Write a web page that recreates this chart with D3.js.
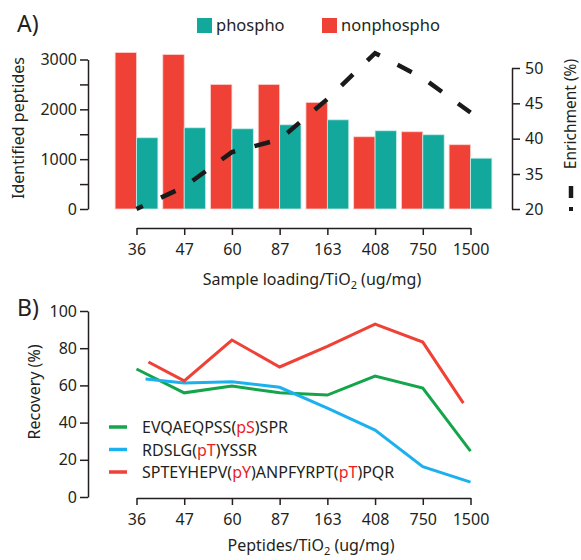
<!DOCTYPE html>
<meta charset="utf-8">
<style>
    body { margin: 0; background: #fff; }
    svg { font-family: "Noto Sans", sans-serif; display: block; }
    .axis path, .axis line { stroke: #231f20; stroke-width: 1.5px; }
    .axis text { font-size: 16px; fill: #231f20; font-family: "Noto Sans", sans-serif; }
    .lbl { font-size: 16px; fill: #231f20; }
</style>
<script src="https://cdn.jsdelivr.net/npm/d3@7"></script>
<svg width="581" height="560"></svg>
<script>
    // dados
    var doses = ["36", "47", "60", "87", "163", "408", "750", "1500"];
    var phospho = [1430, 1630, 1610, 1690, 1790, 1570, 1490, 1020];
    var nonphospho = [3140, 3100, 2500, 2500, 2140, 1450, 1550, 1290];
    var enrichment = [20, 29.5, 38.1, 39.9, 45.6, 52.1, 48.6, 43.7];
    var enrichTicks = [20, 35, 40, 45, 50];

    var recGreenX = [0, 1, 2, 3, 4, 5, 6, 7];
    var recGreen = [68.8, 56, 59.7, 56, 54.8, 65, 58.6, 24.7];
    var recBlueX = [0.19, 1, 2, 3, 4, 5, 6, 7];
    var recBlue = [63.4, 61.3, 62, 59, 47.8, 36, 16.3, 8];
    var recRedX = [0.25, 1, 2, 3, 4, 5, 6, 6.85];
    var recRed = [72.6, 62.4, 84.4, 69.9, 81, 93, 83.3, 50.5];

    var peptides = [
        { pre: "EVQAEQPSS(", p1: "pS", mid: ")SPR", p2: null, post: "", color: "#14a54a" },
        { pre: "RDSLG(", p1: "pT", mid: ")YSSR", p2: null, post: "", color: "#1cb1ee" },
        { pre: "SPTEYHEPV(", p1: "pY", mid: ")ANPFYRPT(", p2: "pT", post: ")PQR", color: "#ef4136" }
    ];

    var RED = "#ef4136", TEAL = "#13a89c", TXTRED = "#ed1c24";

    var svg = d3.select("svg");

    var x = d3.scaleLinear().domain([0, 7]).range([136.5, 470.5]);
    var bw = 21.4;

    // ---------- A ----------
    var yA = d3.scaleLinear().domain([0, 3000]).range([209, 59.5]);
    var yE = d3.scaleLinear().domain([20, 35, 50]).range([209, 174, 68]);

    var gA = svg.append("g");

    gA.selectAll(".nonp").data(nonphospho).enter().append("rect")
        .attr("x", function (d, i) { return x(i) - bw; })
        .attr("y", function (d) { return yA(d); })
        .attr("width", bw)
        .attr("height", function (d) { return yA(0) - yA(d); })
        .attr("fill", RED)
        .attr("stroke", "#fbd3cf").attr("stroke-width", 0.8);

    gA.selectAll(".ph").data(phospho).enter().append("rect")
        .attr("x", function (d, i) { return x(i); })
        .attr("y", function (d) { return yA(d); })
        .attr("width", bw)
        .attr("height", function (d) { return yA(0) - yA(d); })
        .attr("fill", TEAL)
        .attr("stroke", "#c9ece8").attr("stroke-width", 0.8);

    gA.append("path")
        .datum(enrichment)
        .attr("fill", "none")
        .attr("stroke", "#1a1a1a")
        .attr("stroke-width", 4.5)
        .attr("stroke-dasharray", "16,20")
        .attr("stroke-dashoffset", 9)
        .attr("d", d3.line().x(function (d, i) { return x(i); }).y(function (d) { return yE(d); }));

    gA.append("g").attr("class", "axis")
        .attr("transform", "translate(88,0)")
        .call(d3.axisLeft(yA).tickValues(d3.range(0, 3001, 500)).tickSize(8).tickSizeOuter(0).tickPadding(3)
            .tickFormat(function (d) { return d % 1000 === 0 ? d : ""; }));

    gA.append("g").attr("class", "axis")
        .attr("transform", "translate(512,0)")
        .call(d3.axisRight(yE).tickValues(enrichTicks).tickSize(8).tickSizeOuter(0).tickPadding(5));

    gA.append("g").attr("class", "axis")
        .attr("transform", "translate(0,228)")
        .call(d3.axisBottom(x).tickValues(d3.range(8)).tickSize(7).tickSizeOuter(0).tickPadding(9)
            .tickFormat(function (i) { return doses[i]; }));

    gA.selectAll(".axis path").attr("fill", "none");

    // legenda A
    gA.append("rect").attr("x", 197).attr("y", 18).attr("width", 15).attr("height", 15).attr("fill", TEAL);
    gA.append("text").attr("class", "lbl").attr("x", 216).attr("y", 31).style("font-size", "16.5px").text("phospho");
    gA.append("rect").attr("x", 322).attr("y", 18).attr("width", 15).attr("height", 15).attr("fill", RED);
    gA.append("text").attr("class", "lbl").attr("x", 341).attr("y", 31).style("font-size", "16.5px").text("nonphospho");

    gA.append("text").attr("class", "lbl").attr("x", 17).attr("y", 32).style("font-size", "23px").text("A)");

    gA.append("text").attr("class", "lbl")
        .attr("transform", "translate(24,128) rotate(-90)")
        .attr("text-anchor", "middle").text("Identified peptides");

    gA.append("text").attr("class", "lbl")
        .attr("transform", "translate(576,114) rotate(-90)")
        .attr("text-anchor", "middle").style("font-size", "15.5px").text("Enrichment (%)");
    gA.append("line").attr("x1", 571).attr("x2", 571).attr("y1", 186).attr("y2", 198)
        .attr("stroke", "#1a1a1a").attr("stroke-width", 4.5);
    gA.append("rect").attr("x", 569).attr("y", 207).attr("width", 4).attr("height", 4).attr("fill", "#1a1a1a");

    var tA = gA.append("text").attr("class", "lbl").attr("x", 312).attr("y", 285).attr("text-anchor", "middle");
    tA.append("tspan").text("Sample loading/TiO");
    tA.append("tspan").attr("dy", 4).style("font-size", "11px").text("2");
    tA.append("tspan").attr("dy", -4).text(" (ug/mg)");

    // ---------- B ----------
    var yB = d3.scaleLinear().domain([0, 100]).range([497, 311]);
    var gB = svg.append("g");

    gB.append("g").attr("class", "axis")
        .attr("transform", "translate(88,0)")
        .call(d3.axisLeft(yB).tickValues(d3.range(0, 101, 20)).tickSize(8).tickSizeOuter(0).tickPadding(3));

    gB.append("g").attr("class", "axis")
        .attr("transform", "translate(0,498)")
        .call(d3.axisBottom(x).tickValues(d3.range(8)).tickSize(7).tickSizeOuter(0).tickPadding(9)
            .tickFormat(function (i) { return doses[i]; }));
    gB.selectAll(".axis path").attr("fill", "none");

    var series = [
        { xs: recGreenX, ys: recGreen, color: peptides[0].color },
        { xs: recBlueX, ys: recBlue, color: peptides[1].color },
        { xs: recRedX, ys: recRed, color: peptides[2].color }
    ];

    var lineB = d3.line()
        .x(function (d) { return x(d[0]); })
        .y(function (d) { return yB(d[1]); });

    gB.selectAll(".rec").data(series).enter().append("path")
        .attr("fill", "none")
        .attr("stroke", function (d) { return d.color; })
        .attr("stroke-width", 3)
        .attr("d", function (d) { return lineB(d.xs.map(function (v, i) { return [v, d.ys[i]]; })); });

    // legenda B
    var leg = gB.selectAll(".leg").data(peptides).enter().append("g")
        .attr("transform", function (d, i) { return "translate(0," + (427 + i * 22.5) + ")"; });
    leg.append("line").attr("x1", 109).attr("x2", 127)
        .attr("stroke", function (d) { return d.color; }).attr("stroke-width", 3.5);
    var lt = leg.append("text").attr("class", "lbl").attr("x", 142).attr("y", 6);
    lt.append("tspan").text(function (d) { return d.pre; });
    lt.append("tspan").attr("fill", TXTRED).text(function (d) { return d.p1; });
    lt.append("tspan").text(function (d) { return d.mid; });
    lt.filter(function (d) { return d.p2; }).append("tspan").attr("fill", TXTRED).text(function (d) { return d.p2; });
    lt.filter(function (d) { return d.p2; }).append("tspan").text(function (d) { return d.post; });

    gB.append("text").attr("class", "lbl").attr("x", 17).attr("y", 316).style("font-size", "23px").text("B)");

    gB.append("text").attr("class", "lbl")
        .attr("transform", "translate(40,392) rotate(-90)")
        .attr("text-anchor", "middle").text("Recovery (%)");

    var tB = gB.append("text").attr("class", "lbl").attr("x", 311).attr("y", 551).attr("text-anchor", "middle");
    tB.append("tspan").text("Peptides/TiO");
    tB.append("tspan").attr("dy", 4).style("font-size", "11px").text("2");
    tB.append("tspan").attr("dy", -4).text(" (ug/mg)");
</script>
